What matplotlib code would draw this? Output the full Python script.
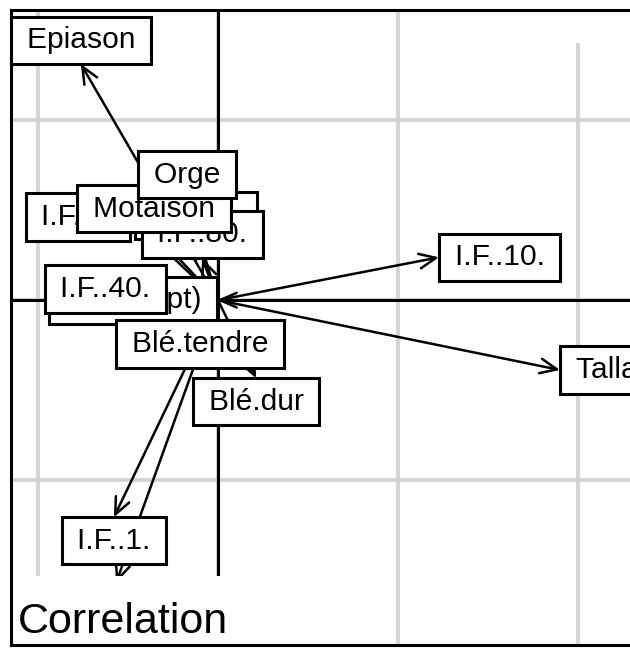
import matplotlib
matplotlib.use("Agg")
import matplotlib.pyplot as plt
from matplotlib.patches import Rectangle, ArrowStyle

plt.rcParams['font.family'] = ['Liberation Sans', 'DejaVu Sans']

# arrow ends (correlations), in drawing order of the labels
labels = ["(Intercept)", "I.F..20.", "I.F..5.", "I.F..80.", "I.F..40.", "I.F..1.",
          "I.F..2.", "I.F..10.", "Blé.tendre", "Blé.dur", "Tallage", "Epiason",
          "Motaison", "Orge"]
xs = [-0.003, -0.061, -0.244, -0.044, -0.144, -0.289,
      -0.283, 0.614, -0.050, 0.106, 0.950, -0.381,
      -0.178, -0.086]
ys = [0.000, 0.169, 0.231, 0.117, 0.031, -0.603,
      -0.785, 0.119, -0.056, -0.217, -0.194, 0.656,
      0.189, 0.283]

grid_x = [-0.5, 0.0, 0.5, 1.0]
grid_y = [-0.5, 0.0, 0.5]
xlim = (-0.575, 1.189)
ylim = (-0.958, 0.806)
subtitle = "Correlation"

fig = plt.figure(figsize=(6.3, 6.48), dpi=100)
ax = fig.add_axes([11 / 630, 3 / 648, 635 / 630, 635 / 648])
ax.set_xlim(*xlim)
ax.set_ylim(*ylim)
ax.set_xticks([])
ax.set_yticks([])
for sp in ax.spines.values():
    sp.set_linewidth(2.2)
    sp.set_zorder(50)

# grid
for gx in grid_x:
    ax.axvline(gx, color='#d3d3d3', lw=2.7, zorder=1)
for gy in grid_y:
    ax.axhline(gy, color='#d3d3d3', lw=2.7, zorder=1)
# axes through origin
ax.axhline(0, color='black', lw=2.2, zorder=2)
ax.axvline(0, color='black', lw=2.2, zorder=2)

# arrows
head = ArrowStyle('->', head_length=0.5, head_width=0.22)
for x, y in zip(xs, ys):
    ax.annotate('', xy=(x, y), xytext=(0, 0),
                arrowprops=dict(arrowstyle=head, lw=1.8, color='black',
                                shrinkA=0, shrinkB=0, mutation_scale=24),
                zorder=3)

# labels, placed as ade4 scatterutil.eti.circ does
fs = 21.6
pad = 0.32
padpt = pad * fs
sp_ = "\u2009"
for i, (lab, x, y) in enumerate(zip(labels, xs, ys)):
    if x > y and x > -y:
        ha, va, off = 'left', 'center', (padpt, 0)
    elif x > y and x <= -y:
        ha, va, off = 'center', 'top', (0, -padpt)
    elif x <= y and x <= -y:
        ha, va, off = 'right', 'center', (-padpt, 0)
    else:
        ha, va, off = 'center', 'bottom', (0, padpt)
    ax.annotate(sp_ + lab + sp_, xy=(x, y), xytext=off, textcoords='offset points',
                ha=ha, va=va, fontsize=fs, zorder=10 + i,
                bbox=dict(boxstyle='square,pad=%.2f' % pad, fc='white',
                          ec='black', lw=2.2))

# sub-title box
ax.annotate(subtitle, xy=(0, 0), xycoords='axes fraction', xytext=(5, 8.5),
            textcoords='offset points', ha='left', va='baseline', fontsize=31,
            zorder=40,
            bbox=dict(boxstyle='square,pad=0.6', fc='white', ec='none'))

# white box of the (cropped) "d = 0.5" legend at top right
ax.add_patch(Rectangle((0.888, 0.948), 0.2, 0.06, transform=ax.transAxes,
                       fc='white', ec='none', zorder=40, clip_on=False))

fig.savefig("out.png", dpi=100)
